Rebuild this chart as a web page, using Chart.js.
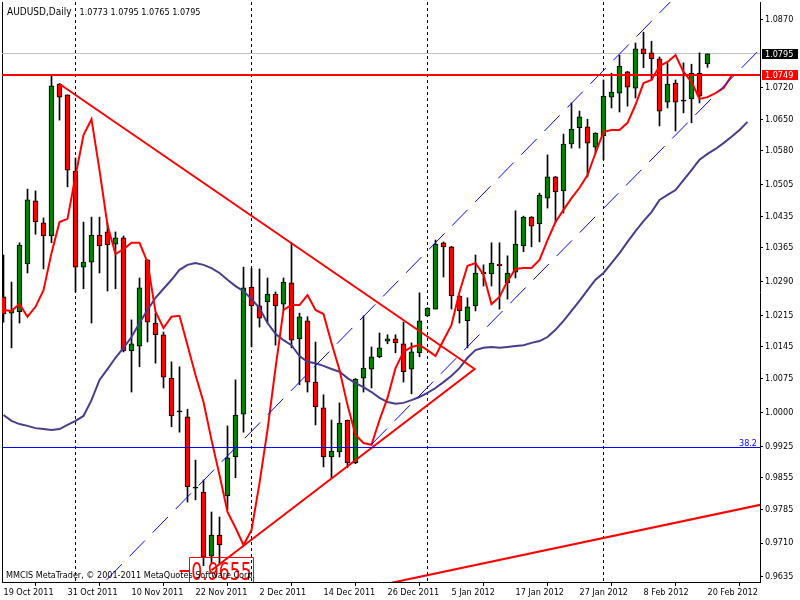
<!DOCTYPE html>
<html><head><meta charset="utf-8">
<script src="https://cdn.jsdelivr.net/npm/chart.js@4.4.1/dist/chart.umd.min.js"></script>
<style>html,body{margin:0;padding:0;background:#fff;}canvas{display:block;}</style>
</head><body>
<canvas id="c" width="800" height="600"></canvas>
<script>
// ---------- data ----------
const symbolTitle = 'AUDUSD,Daily';
const lastOHLCText = '1.0773 1.0795 1.0765 1.0795';
const copyrightText = 'MMCIS MetaTrader, © 2001-2011 MetaQuotes Software Corp.';

const dates = ['19 Oct 2011','20 Oct 2011','21 Oct 2011','24 Oct 2011','25 Oct 2011','26 Oct 2011','27 Oct 2011','28 Oct 2011','31 Oct 2011',
 '1 Nov 2011','2 Nov 2011','3 Nov 2011','4 Nov 2011','7 Nov 2011','8 Nov 2011','9 Nov 2011','10 Nov 2011','11 Nov 2011','14 Nov 2011','15 Nov 2011','16 Nov 2011','17 Nov 2011','18 Nov 2011','21 Nov 2011','22 Nov 2011','23 Nov 2011','24 Nov 2011','25 Nov 2011','28 Nov 2011','29 Nov 2011','30 Nov 2011',
 '1 Dec 2011','2 Dec 2011','5 Dec 2011','6 Dec 2011','7 Dec 2011','8 Dec 2011','9 Dec 2011','12 Dec 2011','13 Dec 2011','14 Dec 2011','15 Dec 2011','16 Dec 2011','19 Dec 2011','20 Dec 2011','21 Dec 2011','22 Dec 2011','23 Dec 2011','26 Dec 2011','27 Dec 2011','28 Dec 2011','29 Dec 2011','30 Dec 2011',
 '2 Jan 2012','3 Jan 2012','4 Jan 2012','5 Jan 2012','6 Jan 2012','9 Jan 2012','10 Jan 2012','11 Jan 2012','12 Jan 2012','13 Jan 2012','16 Jan 2012','17 Jan 2012','18 Jan 2012','19 Jan 2012','20 Jan 2012','23 Jan 2012','24 Jan 2012','25 Jan 2012','26 Jan 2012','27 Jan 2012','30 Jan 2012','31 Jan 2012',
 '1 Feb 2012','2 Feb 2012','3 Feb 2012','6 Feb 2012','7 Feb 2012','8 Feb 2012','9 Feb 2012','10 Feb 2012','13 Feb 2012','14 Feb 2012','15 Feb 2012','16 Feb 2012','17 Feb 2012','20 Feb 2012'];

const openP = [1.0256,1.0220,1.0223,1.0329,1.0469,1.0420,1.0391,1.0728,1.0704,
 1.0535,1.0322,1.0333,1.0393,1.0400,1.0373,1.0387,1.0136,1.0147,1.0338,1.0198,1.0172,1.0076,1.0003,0.9990,0.9833,0.9823,0.9681,0.9728,0.9815,0.9901,0.9996,
 1.0278,1.0236,1.0245,1.0262,1.0240,1.0287,1.0163,1.0203,1.0067,1.0010,0.9901,0.9912,0.9983,0.9888,1.0076,1.0096,1.0123,1.0158,1.0163,1.0152,1.0096,1.0132,
 1.0214,1.0229,1.0376,1.0367,1.0258,1.0203,1.0236,1.0311,1.0307,1.0329,1.0287,1.0311,1.0369,1.0433,1.0418,1.0475,1.0522,1.0491,1.0595,1.0631,1.0633,1.0588,
 1.0613,1.0699,1.0708,1.0755,1.0719,1.0806,1.0797,1.0784,1.0688,1.0730,1.0691,1.0695,1.0752,1.0773];
const highP = [1.0349,1.0289,1.0376,1.0495,1.0491,1.0431,1.0749,1.0729,1.0704,
 1.0564,1.0422,1.0433,1.0433,1.0420,1.0400,1.0391,1.0205,1.0298,1.0338,1.0220,1.0178,1.0112,1.0101,1.0007,0.9894,0.9850,0.9779,0.9768,0.9970,1.0072,1.0322,
 1.0320,1.0318,1.0298,1.0267,1.0298,1.0376,1.0220,1.0212,1.0156,1.0039,0.9983,1.0021,0.9983,1.0075,1.0214,1.0145,1.0176,1.0172,1.0172,1.0200,1.0154,1.0265,
 1.0232,1.0382,1.0378,1.0368,1.0259,1.0254,1.0349,1.0327,1.0376,1.0376,1.0347,1.0447,1.0435,1.0434,1.0486,1.0571,1.0523,1.0617,1.0686,1.0668,1.0650,1.0620,
 1.0737,1.0752,1.0792,1.0756,1.0819,1.0843,1.0823,1.0788,1.0775,1.0737,1.0775,1.0772,1.0797,1.0795];
const lowP = [1.0200,1.0143,1.0198,1.0309,1.0395,1.0318,1.0376,1.0648,1.0500,
 1.0267,1.0274,1.0198,1.0309,1.0269,1.0274,1.0134,1.0045,1.0101,1.0156,1.0109,1.0054,0.9968,0.9956,0.9801,0.9806,0.9660,0.9666,0.9662,0.9784,0.9855,0.9956,
 1.0145,1.0189,1.0198,1.0149,1.0227,1.0143,1.0061,1.0045,0.9972,0.9879,0.9855,0.9901,0.9877,0.9886,1.0045,1.0054,1.0121,1.0152,1.0132,1.0067,1.0041,1.0123,
 1.0213,1.0229,1.0300,1.0229,1.0198,1.0143,1.0225,1.0280,1.0280,1.0229,1.0251,1.0298,1.0356,1.0367,1.0378,1.0453,1.0422,1.0442,1.0586,1.0586,1.0522,1.0573,
 1.0560,1.0675,1.0666,1.0679,1.0697,1.0764,1.0737,1.0635,1.0675,1.0624,1.0664,1.0642,1.0686,1.0765];
const closeP = [1.0218,1.0227,1.0371,1.0471,1.0422,1.0391,1.0724,1.0699,1.0537,
 1.0322,1.0333,1.0393,1.0369,1.0371,1.0387,1.0136,1.0152,1.0276,1.0200,1.0172,1.0078,0.9992,1.0001,0.9835,0.9832,0.9679,0.9728,0.9706,0.9899,0.9994,1.0276,
 1.0236,1.0209,1.0262,1.0236,1.0289,1.0160,1.0212,1.0067,1.0012,0.9901,0.9914,0.9976,0.9888,1.0074,1.0098,1.0123,1.0143,1.0163,1.0154,1.0090,1.0134,1.0203,
 1.0231,1.0373,1.0367,1.0258,1.0225,1.0234,1.0309,1.0307,1.0331,1.0325,1.0309,1.0373,1.0433,1.0413,1.0482,1.0522,1.0489,1.0595,1.0628,1.0655,1.0597,1.0619,
 1.0701,1.0710,1.0768,1.0721,1.0806,1.0795,1.0784,1.0668,1.0728,1.0688,1.0690,1.0752,1.0701,1.0795];

// fast moving average (red, drawn shifted forward), one value per bar slot
const fastMA = [1.0227,1.0225,1.0240,1.0212,1.0234,1.0271,1.0353,1.0422,1.0429,
 1.0524,1.0615,1.0650,1.0537,1.0415,1.0351,1.0362,1.0376,1.0376,1.0333,1.0223,1.0187,1.0212,1.0214,1.0149,1.0083,1.0023,0.9939,0.9861,0.9779,0.9744,0.9706,
 0.9739,0.9843,0.9961,1.0098,1.0227,1.0238,1.0238,1.0260,1.0227,1.0218,1.0154,1.0094,1.0016,0.9950,0.9932,0.9928,0.9983,1.0032,1.0098,1.0134,1.0145,1.0149,
 1.0138,1.0125,1.0160,1.0194,1.0267,1.0325,1.0331,1.0305,1.0240,1.0256,1.0291,1.0318,1.0320,1.0320,1.0338,1.0382,1.0422,1.0449,1.0475,1.0498,1.0526,1.0575,
 1.0622,1.0626,1.0626,1.0642,1.0682,1.0730,1.0737,1.0768,1.0777,1.0792,1.0755,1.0733,1.0695,1.0699,1.0708,1.0719,1.0746];
// slow moving average (dark slate blue)
const slowMA = [0.9994,0.9981,0.9974,0.9970,0.9965,0.9963,0.9961,0.9963,0.9972,
 0.9981,0.9992,1.0027,1.0072,1.0096,1.0121,1.0143,1.0167,1.0198,1.0227,1.0254,1.0274,1.0294,1.0316,1.0327,1.0331,1.0327,1.0320,1.0309,1.0294,1.0280,1.0269,
 1.0251,1.0231,1.0198,1.0174,1.0160,1.0149,1.0125,1.0112,1.0109,1.0103,1.0096,1.0090,1.0076,1.0065,1.0056,1.0045,1.0032,1.0023,1.0019,1.0021,1.0027,1.0034,
 1.0043,1.0054,1.0067,1.0081,1.0098,1.0121,1.0138,1.0143,1.0145,1.0143,1.0145,1.0147,1.0149,1.0154,1.0158,1.0167,1.0183,1.0203,1.0225,1.0247,1.0271,1.0294,
 1.0309,1.0331,1.0353,1.0378,1.0402,1.0424,1.0444,1.0471,1.0482,1.0493,1.0515,1.0537,1.0560,1.0573,1.0584,1.0597,1.0611,1.0626,1.0644];

const dateTickIdx = [0,8,16,24,32,40,48,56,64,72,80,88];
const dateTickLabels = ['19 Oct 2011','31 Oct 2011','10 Nov 2011','22 Nov 2011','2 Dec 2011','14 Dec 2011','26 Dec 2011','5 Jan 2012','17 Jan 2012','27 Jan 2012','8 Feb 2012','20 Feb 2012'];
const priceTickLabels = ['1.0870','1.0720','1.0650','1.0580','1.0505','1.0435','1.0365','1.0290','1.0215','1.0145','1.0075','1.0000','0.9925','0.9855','0.9785','0.9710','0.9635'];
const monthStartIdx = [9,31,53,75];

const bidPrice = 1.0795;
const levelPrice = 1.0749;
const fibPrice = 0.9923;
const fibText = '38.2';
const lowText = '0.9655';
const lowTextIdx = 27.25;
const lowTextPrice = 0.96485;

// trend objects: [bar index, price]
const triangleIdx = [7, 58.9, 26];
const trianglePrice = [1.0728, 1.0096, 0.9650];
const supportIdx = [48.5, 94.6];
const supportPrice = [0.9622, 0.9795];
const channelUpIdx = [10, 90];
const channelUpPrice = [0.9576, 1.1031];
const channelLowIdx = [46, 94.6];
const channelLowPrice = [0.9929, 1.0806];

// ---------- chart ----------
const FONT = "'DejaVu Sans Condensed', 'Liberation Sans', sans-serif";
Chart.defaults.font.family = FONT;
Chart.defaults.font.size = 9;
Chart.defaults.color = '#000';

const pts = (xs, ys) => xs.map((x, i) => ({x, y: ys[i]}));
const bodyColors = openP.map((o, i) => Math.abs(closeP[i] - o) < 0.00025 ? '#000000' : (closeP[i] > o ? '#008000' : '#ff0000'));

const overlay = {
  id: 'overlay',
  beforeDatasetsDraw(chart) {
    const {ctx, chartArea: a, scales: {x, y}} = chart;
    ctx.save();
    ctx.strokeStyle = '#000'; ctx.lineWidth = 1;
    ctx.beginPath(); ctx.moveTo(a.left + 0.5, a.top); ctx.lineTo(a.left + 0.5, a.bottom); ctx.stroke();
    ctx.setLineDash([3, 3]);
    monthStartIdx.forEach(i => {
      const px = Math.floor(x.getPixelForValue(i)) + 0.5;
      ctx.beginPath(); ctx.moveTo(px, a.top); ctx.lineTo(px, a.bottom); ctx.stroke();
    });
    ctx.setLineDash([]);
    const by = Math.floor(y.getPixelForValue(bidPrice)) + 0.5;
    ctx.strokeStyle = '#c0c0c0';
    ctx.beginPath(); ctx.moveTo(a.left, by); ctx.lineTo(a.right, by); ctx.stroke();
    ctx.restore();
  },
  afterDatasetsDraw(chart) {
    const {ctx, chartArea: a, scales: {x, y}} = chart;
    ctx.save();
    ctx.beginPath(); ctx.rect(a.left, a.top, a.right - a.left, a.bottom - a.top); ctx.clip();
    // horizontal level
    const ly = Math.round(y.getPixelForValue(levelPrice));
    ctx.strokeStyle = '#ff0000'; ctx.lineWidth = 2;
    ctx.beginPath(); ctx.moveTo(a.left, ly); ctx.lineTo(a.right, ly); ctx.stroke();
    // fib level
    const fy = Math.floor(y.getPixelForValue(fibPrice)) + 0.5;
    ctx.strokeStyle = '#0000ff'; ctx.lineWidth = 1;
    ctx.beginPath(); ctx.moveTo(a.left, fy); ctx.lineTo(a.right, fy); ctx.stroke();
    ctx.fillStyle = '#0000ff'; ctx.font = '9px ' + FONT; ctx.textAlign = 'right'; ctx.textBaseline = 'alphabetic';
    ctx.fillText(fibText, a.right - 3, fy - 2);
    // low price label
    const cx = x.getPixelForValue(lowTextIdx), cy = y.getPixelForValue(lowTextPrice);
    ctx.font = '24px ' + FONT;
    const sx = 0.8;
    const tw = ctx.measureText(lowText).width * sx;
    ctx.save();
    ctx.translate(cx, cy + 9); ctx.scale(sx, 1);
    ctx.fillStyle = '#ff0000'; ctx.textAlign = 'center'; ctx.textBaseline = 'alphabetic';
    ctx.fillText(lowText, 0, 0);
    ctx.restore();
    ctx.strokeStyle = '#ff0000'; ctx.lineWidth = 1;
    const bl = Math.floor(cx - tw / 2 - 2) + 0.5, br = Math.floor(cx + tw / 2 + 2) + 0.5, bt = Math.floor(cy - 13) + 0.5;
    ctx.beginPath(); ctx.moveTo(bl, a.bottom); ctx.lineTo(bl, bt); ctx.lineTo(br, bt); ctx.lineTo(br, a.bottom); ctx.stroke();
    ctx.lineWidth = 2;
    ctx.beginPath(); ctx.moveTo(bl - 10, Math.round(cy)); ctx.lineTo(bl, Math.round(cy)); ctx.stroke();
    // titles
    ctx.fillStyle = '#000'; ctx.textAlign = 'left'; ctx.textBaseline = 'alphabetic';
    ctx.font = '10px ' + FONT;
    ctx.fillText(symbolTitle, a.left + 5, a.top + 13);
    const tw2 = ctx.measureText(symbolTitle).width;
    ctx.font = '9px ' + FONT;
    ctx.fillText(lastOHLCText, a.left + 5 + tw2 + 8, a.top + 13);
    ctx.fillText(copyrightText, a.left + 4, a.bottom - 4);
    ctx.restore();
  },
  afterDraw(chart) {
    const {ctx, chartArea: a, scales: {y}} = chart;
    ctx.save();
    ctx.font = '9px ' + FONT; ctx.textAlign = 'left'; ctx.textBaseline = 'middle';
    [[bidPrice, '#000000'], [levelPrice, '#ff0000']].forEach(([p, bg]) => {
      const py = Math.round(y.getPixelForValue(p) + 0.5);
      ctx.fillStyle = bg; ctx.fillRect(a.right + 2, py - 5, 36, 10);
      ctx.fillStyle = '#ffffff'; ctx.fillText(p.toFixed(4), a.right + 5, py + 0.5);
    });
    ctx.restore();
  }
};

new Chart(document.getElementById('c'), {
  type: 'bar',
  data: {
    datasets: [
      {type: 'line', data: pts(triangleIdx, trianglePrice), borderColor: '#ff0000', borderWidth: 2, pointRadius: 0, order: 1},
      {type: 'line', data: pts(supportIdx, supportPrice), borderColor: '#ff0000', borderWidth: 2, pointRadius: 0, order: 1},
      {type: 'line', data: pts(channelUpIdx, channelUpPrice), borderColor: '#0000ff', borderWidth: 1, borderDash: [22, 11], pointRadius: 0, order: 1},
      {type: 'line', data: pts(channelLowIdx, channelLowPrice), borderColor: '#0000ff', borderWidth: 1, borderDash: [22, 11], pointRadius: 0, order: 1},
      {type: 'line', data: fastMA.map((v, i) => ({x: i, y: v})), borderColor: '#ff0000', borderWidth: 2, pointRadius: 0, order: 2},
      {type: 'line', data: slowMA.map((v, i) => ({x: i, y: v})), borderColor: '#483d8b', borderWidth: 2, pointRadius: 0, order: 2},
      {type: 'bar', data: openP.map((o, i) => ({x: i, y: [o, closeP[i]]})), backgroundColor: bodyColors, borderColor: '#000', borderWidth: 1, borderSkipped: false, barThickness: 5, minBarLength: 1, grouped: false, order: 5},
      {type: 'bar', data: lowP.map((l, i) => ({x: i, y: [l, highP[i]]})), backgroundColor: '#000', borderWidth: 0, barThickness: 1, grouped: false, order: 6}
    ]
  },
  options: {
    responsive: false, devicePixelRatio: 1, animation: false, events: [],
    layout: {padding: {left: 2, top: 2, right: 0, bottom: 0}},
    plugins: {legend: {display: false}, tooltip: {enabled: false}},
    scales: {
      x: {
        type: 'linear', offset: false, min: -0.1875, max: 94.5625,
        afterBuildTicks: s => { s.ticks = dateTickIdx.map(v => ({value: v})); },
        afterFit: s => { s.height = 18; s.paddingLeft = 0; s.paddingRight = 0; },
        ticks: {autoSkip: false, maxRotation: 0, align: 'start', padding: 1, callback: (v, i) => dateTickLabels[i]},
        grid: {display: true, drawOnChartArea: false, drawTicks: true, tickLength: 4, color: '#000'},
        border: {display: true, color: '#000'}
      },
      y: {
        type: 'linear', position: 'right', min: 0.96238, max: 1.09099,
        afterBuildTicks: s => { s.ticks = priceTickLabels.map(v => ({value: Number(v)})); },
        afterFit: s => { s.width = 40; s.paddingTop = 0; s.paddingBottom = 0; },
        ticks: {autoSkip: false, padding: 2, callback: (v, i) => priceTickLabels[i]},
        grid: {display: true, drawOnChartArea: false, drawTicks: true, tickLength: 3, color: '#000'},
        border: {display: true, color: '#000'}
      }
    }
  },
  plugins: [overlay]
});
</script>
</body></html>
